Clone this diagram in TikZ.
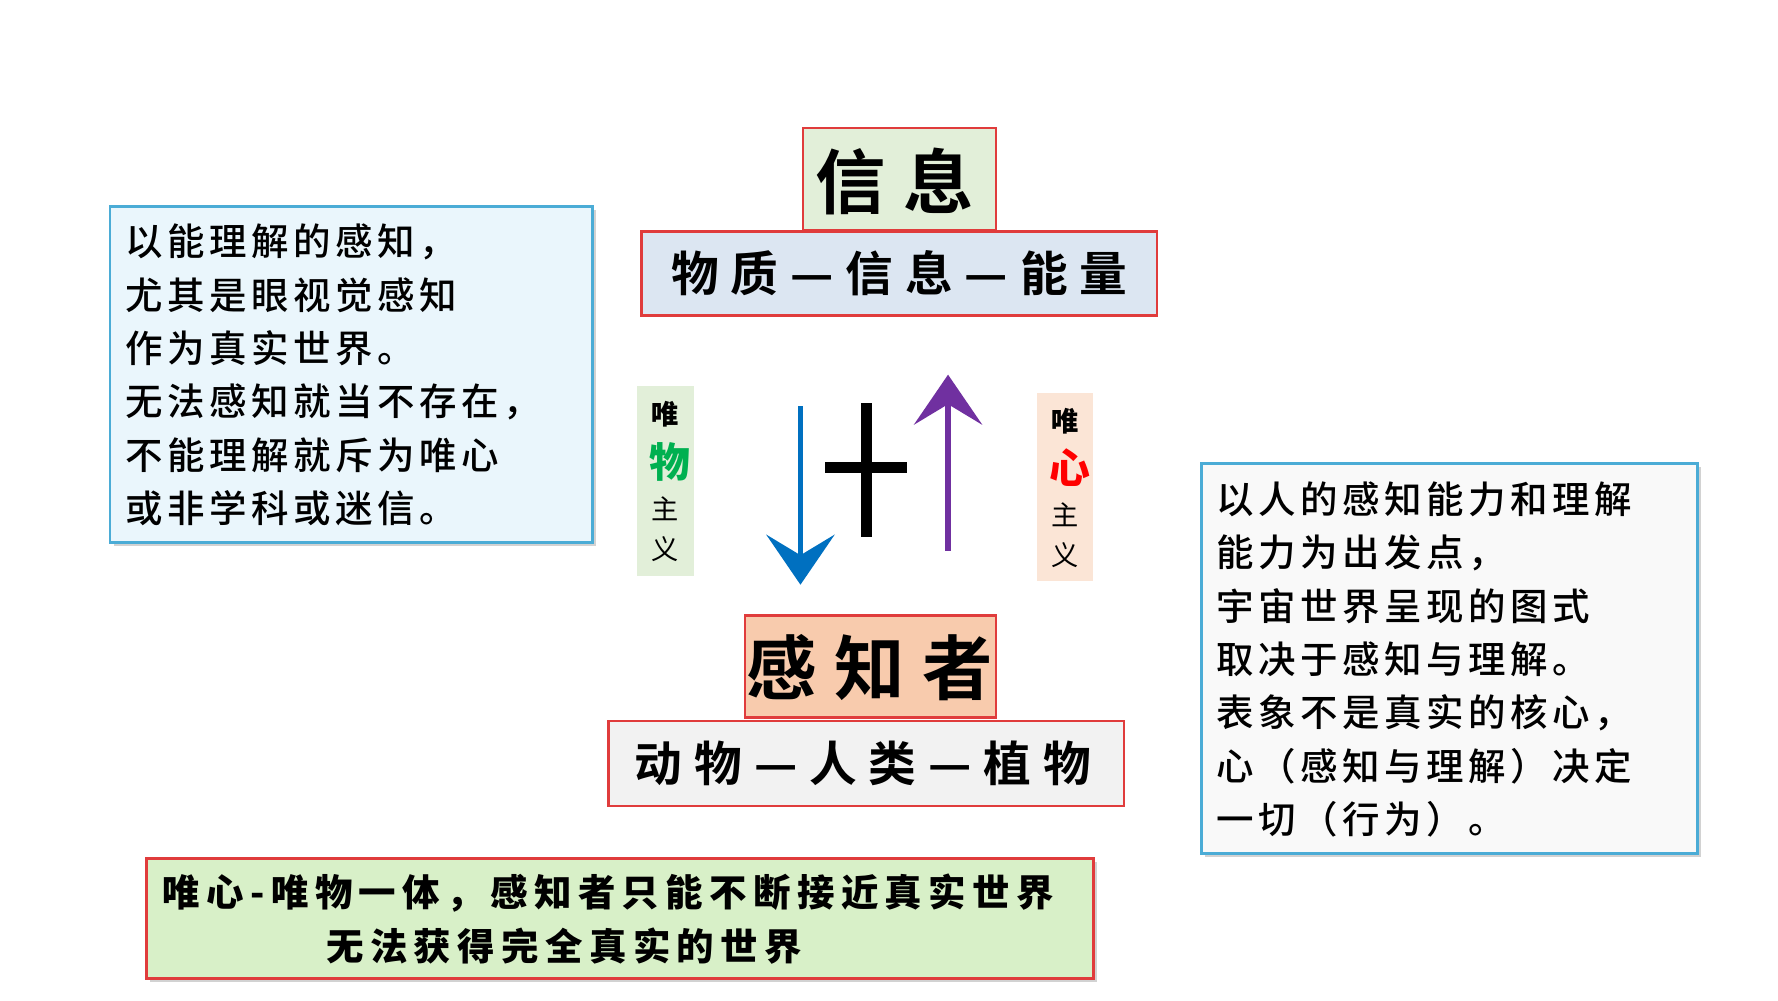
\documentclass[tikz,border=0pt]{standalone}
\usepackage{fontspec}
\setmainfont{Noto Sans CJK SC}
\newfontfamily\cjk[LetterSpace=12]{Noto Sans CJK SC Medium}
\newfontfamily\cjkt[LetterSpace=25]{Noto Sans CJK SC Bold}
\newfontfamily\cjkb[LetterSpace=17]{Noto Sans CJK SC Black}
\usetikzlibrary{arrows.meta,shadows}
\definecolor{redb}{HTML}{E03C3C}
\definecolor{blueb}{HTML}{4BACD6}
\definecolor{lgreen}{RGB}{226,239,217}
\definecolor{lblue}{RGB}{220,230,242}
\definecolor{lcyan}{RGB}{234,246,252}
\definecolor{lgray}{RGB}{249,249,249}
\definecolor{lpeach}{RGB}{251,229,214}
\definecolor{peach}{RGB}{248,203,173}
\definecolor{gray2}{RGB}{242,242,242}
\definecolor{sgreen}{RGB}{216,240,200}
\definecolor{wgreen}{RGB}{0,176,80}
\definecolor{abl}{RGB}{0,112,192}
\definecolor{apu}{RGB}{112,48,160}
\tikzset{
 tbox/.style={draw=redb,line width=1pt},
 sbox/.style={draw=blueb,line width=1.2pt,drop shadow={shadow xshift=1.5pt,shadow yshift=-1.5pt,fill=gray!70}},
 txt/.style={anchor=west,inner sep=0pt,font=\fontsize{16.5}{18}\selectfont\cjk},
}
\begin{document}
\begin{tikzpicture}[x=0.5pt,y=-0.5pt]
\useasboundingbox (0,0) rectangle (1566,881);
\fill[white] (0,0) rectangle (1566,881);
% top boxes
\draw[tbox,fill=lgreen] (707,113) rectangle (877,203);
\node[font=\fontsize{31}{34}\selectfont\cjkt] (xx) at (788,160) {信息};
\draw[tbox,fill=lblue] (565,204) rectangle (1019,278);
\node[font=\fontsize{21}{24}\selectfont\cjkt] (wz) at (792,241) {物质—信息—能量};
% left box
\draw[sbox,fill=lcyan] (97,182) rectangle (522,478);
\foreach \t [count=\i] in {以能理解的感知，,尤其是眼视觉感知,作为真实世界。,无法感知就当不存在，,不能理解就斥为唯心,或非学科或迷信。}
 \node[txt] (l\i) at (110,166+47*\i) {\t};
% right box
\draw[sbox,fill=lgray] (1058,408) rectangle (1495,752);
\foreach \t [count=\i] in {以人的感知能力和理解,能力为出发点，,宇宙世界呈现的图式,取决于感知与理解。,表象不是真实的核心，,心（感知与理解）决定,一切（行为）。}
 \node[txt] (r\i) at (1071,393+47*\i) {\t};
% vertical labels
\fill[lgreen] (561,340) rectangle (611,507);
\node[font=\fontsize{12}{14}\selectfont\bfseries] (w1) at (586,365) {唯};
\node[font=\fontsize{18}{20}\selectfont\bfseries,text=wgreen] (w2) at (590,407) {物};
\node[font=\fontsize{12}{14}\selectfont] (w3) at (586,448) {主};
\node[font=\fontsize{12}{14}\selectfont] (w4) at (586,484) {义};
\fill[lpeach] (913,346) rectangle (963,512);
\node[font=\fontsize{12}{14}\selectfont\bfseries] (x1) at (938,371) {唯};
\node[font=\fontsize{18}{20}\selectfont\bfseries,text=red] (x2) at (942,412) {心};
\node[font=\fontsize{12}{14}\selectfont] (x3) at (938,453) {主};
\node[font=\fontsize{12}{14}\selectfont] (x4) at (938,489) {义};
% arrows
\coordinate (a1) at (705,358); \coordinate (a2) at (705,515);
\draw[line width=2.5pt,abl,-{Stealth[length=22pt,width=30pt,inset=9pt]}] (a1) -- (a2);
\coordinate (b1) at (835,485); \coordinate (b2) at (835,330);
\draw[line width=2.5pt,apu,-{Stealth[length=22pt,width=30pt,inset=9pt]}] (b1) -- (b2);
\coordinate (c1) at (763,355); \coordinate (c2) at (763,473);
\coordinate (c3) at (727,412); \coordinate (c4) at (799,412);
\draw[line width=5pt] (c1) -- (c2) (c3) -- (c4);
% bottom boxes
\draw[tbox,fill=peach] (656,542) rectangle (877,632);
\node[font=\fontsize{31}{34}\selectfont\cjkt] (gz) at (766,588) {感知者};
\draw[tbox,fill=gray2] (536,635) rectangle (990,710);
\node[font=\fontsize{21}{24}\selectfont\cjkt] (dw) at (760,672) {动物—人类—植物};
% summary
\draw[redb,line width=1.2pt,fill=sgreen,drop shadow={shadow xshift=1.5pt,shadow yshift=-1.5pt,fill=gray!70}] (129,756) rectangle (963,862);
\node[txt,font=\fontsize{16.5}{18}\selectfont\cjkb] (s1) at (143,787) {唯心-唯物一体，感知者只能不断接近真实世界};
\node[txt,font=\fontsize{16.5}{18}\selectfont\cjkb] (s2) at (287,833) {无法获得完全真实的世界};
\end{tikzpicture}
\end{document}
